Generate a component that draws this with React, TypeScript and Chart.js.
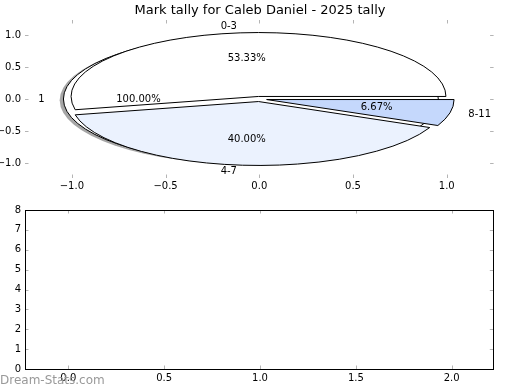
import React, { useEffect, useRef } from "react";
import { Chart, registerables } from "chart.js";
Chart.register(...registerables);

const titleText = "Mark tally for Caleb Daniel - 2025 tally";
const pieLabels = ["0-3", "4-7", "8-11"];
const pieValues = [8, 6, 1];
const pieColors = ["#ffffff", "#ebf2fe", "#c5d8fc"];
const backLabels = ["1"];
const backValues = [1];
const backColors = ["#ffffff"];
const pieTicks = [-1, -0.5, 0, 0.5, 1];
const barXTicks = [0, 0.5, 1, 1.5, 2];
const barYTicks = [0, 1, 2, 3, 4, 5, 6, 7, 8];
const watermark = "Dream-Stats.com";

const FONT = "'DejaVu Sans', sans-serif";
const deg = Math.PI / 180;

const fmt1 = (v: number) => Number(v).toFixed(1).replace("-", "\u2212");

type TextItem = { x: number; y: number; t: string; align: CanvasTextAlign };

function wedges(
  chart: any,
  values: number[],
  labels: string[],
  colors: string[],
  explode: number,
  shadow: boolean,
  texts: TextItem[]
) {
  const ctx: CanvasRenderingContext2D = chart.ctx;
  const xs = chart.scales.x;
  const ys = chart.scales.y;
  const px = (v: number) => xs.getPixelForValue(v);
  const py = (v: number) => ys.getPixelForValue(v);
  const rx = px(1) - px(0);
  const ry = py(0) - py(1);
  const total = values.reduce((a, b) => a + b, 0);
  let theta = 0;
  values.forEach((v, i) => {
    const frac = v / total;
    const t1 = theta;
    const t2 = theta + 360 * frac;
    theta = t2;
    const mid = ((t1 + t2) / 2) * deg;
    const ox = explode * Math.cos(mid);
    const oy = explode * Math.sin(mid);
    const path = (dx: number, dy: number) => {
      const cx = px(ox + dx);
      const cy = py(oy + dy);
      ctx.beginPath();
      if (frac >= 0.999999) {
        ctx.ellipse(cx, cy, rx, ry, 0, 0, Math.PI * 2);
      } else {
        ctx.moveTo(cx, cy);
        ctx.ellipse(cx, cy, rx, ry, 0, -t1 * deg, -t2 * deg, true);
        ctx.closePath();
      }
    };
    if (shadow) {
      path(-0.02, -0.02);
      ctx.fillStyle = "rgba(77,77,77,0.5)";
      ctx.fill();
    }
    path(0, 0);
    ctx.fillStyle = colors[i % colors.length];
    ctx.fill();
    ctx.lineWidth = 1;
    ctx.strokeStyle = "#000000";
    ctx.stroke();
    const lx = ox + 1.1 * Math.cos(mid);
    const ly = oy + 1.1 * Math.sin(mid);
    texts.push({ x: px(lx), y: py(ly), t: labels[i], align: lx > 0 ? "left" : "right" });
    const qx = ox + 0.6 * Math.cos(mid);
    const qy = oy + 0.6 * Math.sin(mid);
    texts.push({ x: px(qx), y: py(qy), t: (100 * frac).toFixed(2) + "%", align: "center" });
  });
}

const piePlugin = {
  id: "ellipsePie",
  afterDatasetsDraw(chart: any) {
    const ctx: CanvasRenderingContext2D = chart.ctx;
    ctx.save();
    const texts: TextItem[] = [];
    wedges(chart, backValues, backLabels, backColors, 0.045, true, texts);
    wedges(chart, pieValues, pieLabels, pieColors, 0.04, false, texts);
    ctx.fillStyle = "#000000";
    ctx.font = `10px ${FONT}`;
    ctx.textBaseline = "middle";
    texts.forEach((t) => {
      ctx.textAlign = t.align;
      ctx.fillText(t.t, t.x, t.y);
    });
    ctx.restore();
  },
};

const tickMarksPlugin = (frame: boolean) => ({
  id: "tickMarks",
  afterDraw(chart: any) {
    const ctx: CanvasRenderingContext2D = chart.ctx;
    const a = chart.chartArea;
    ctx.save();
    ctx.strokeStyle = "#b4b4b4";
    ctx.lineWidth = 1;
    const L = 3.5;
    const xs = chart.scales.x;
    const ys = chart.scales.y;
    ctx.beginPath();
    xs.ticks.forEach((t: any) => {
      const x = Math.round(xs.getPixelForValue(t.value)) + 0.5;
      ctx.moveTo(x, a.top);
      ctx.lineTo(x, a.top + L);
      ctx.moveTo(x, a.bottom);
      ctx.lineTo(x, a.bottom - L);
    });
    ys.ticks.forEach((t: any) => {
      const y = Math.round(ys.getPixelForValue(t.value)) + 0.5;
      ctx.moveTo(a.left, y);
      ctx.lineTo(a.left + L, y);
      ctx.moveTo(a.right, y);
      ctx.lineTo(a.right - L, y);
    });
    ctx.stroke();
    if (frame) {
      ctx.strokeStyle = "#000000";
      ctx.lineWidth = 1;
      ctx.strokeRect(
        Math.round(a.left) + 0.5,
        Math.round(a.top) + 0.5,
        Math.round(a.right - a.left),
        Math.round(a.bottom - a.top)
      );
    }
    ctx.restore();
  },
});

function axis(
  min: number,
  max: number,
  ticks: number[],
  fmt: (v: number) => string,
  size: number,
  isY: boolean,
  pad: number
) {
  return {
    type: "linear" as const,
    min,
    max,
    afterBuildTicks: (s: any) => {
      s.ticks = ticks.map((v) => ({ value: v }));
    },
    afterFit: (s: any) => {
      if (isY) s.width = size;
      else s.height = size;
    },
    grid: { display: false, drawTicks: false },
    border: { display: false },
    ticks: {
      autoSkip: false,
      maxRotation: 0,
      padding: pad,
      color: "#000000",
      font: { family: FONT, size: 10 },
      callback: (v: any) => fmt(Number(v)),
    },
  };
}

function spacer(width: number) {
  return {
    type: "linear" as const,
    position: "right" as const,
    display: true,
    min: 0,
    max: 1,
    afterFit: (s: any) => {
      s.width = width;
    },
    grid: { display: false, drawTicks: false },
    border: { display: false },
    ticks: { display: false },
  };
}

export default function App() {
  const topRef = useRef<HTMLCanvasElement | null>(null);
  const botRef = useRef<HTMLCanvasElement | null>(null);

  useEffect(() => {
    const top = new Chart(topRef.current as HTMLCanvasElement, {
      type: "scatter",
      data: { datasets: [] },
      options: {
        animation: false,
        responsive: false,
        layout: { padding: { left: 0, right: 0, top: 0, bottom: 0 } },
        plugins: {
          legend: { display: false },
          tooltip: { enabled: false },
          title: {
            display: true,
            text: titleText,
            color: "#000000",
            font: { family: FONT, size: 13, weight: "normal" },
            padding: { top: 2.5, bottom: 1.9 },
          },
        },
        scales: {
          x: axis(-1.25, 1.25, pieTicks, fmt1, 17, false, 2),
          y: axis(-1.236, 1.236, pieTicks, fmt1, 25, true, 4),
          yRight: spacer(26.4),
        },
      },
      plugins: [piePlugin, tickMarksPlugin(false)],
    } as any);

    const bot = new Chart(botRef.current as HTMLCanvasElement, {
      type: "scatter",
      data: { datasets: [] },
      options: {
        animation: false,
        responsive: false,
        layout: { padding: { left: 0, right: 0, top: 15, bottom: 0 } },
        plugins: {
          legend: { display: false },
          tooltip: { enabled: false },
        },
        scales: {
          x: axis(-0.226, 2.217, barXTicks, fmt1, 21, false, 3),
          y: axis(0, 8, barYTicks, (v) => String(v), 25, true, 4),
          yRight: spacer(26.7),
        },
      },
      plugins: [tickMarksPlugin(true)],
    } as any);

    return () => {
      top.destroy();
      bot.destroy();
    };
  }, []);

  return (
    <div
      style={{
        position: "absolute",
        left: 0,
        top: 0,
        width: 520,
        height: 390,
        background: "#ffffff",
        overflow: "hidden",
      }}
    >
      <canvas
        ref={topRef}
        width={520}
        height={195}
        style={{ position: "absolute", left: 0, top: 0, display: "block" }}
      />
      <canvas
        ref={botRef}
        width={520}
        height={195}
        style={{ position: "absolute", left: 0, top: 195, display: "block" }}
      />
      <div
        style={{
          position: "absolute",
          left: 0,
          top: 373,
          fontFamily: FONT,
          fontSize: 12,
          lineHeight: "14px",
          color: "#999999",
          whiteSpace: "nowrap",
        }}
      >
        {watermark}
      </div>
    </div>
  );
}
